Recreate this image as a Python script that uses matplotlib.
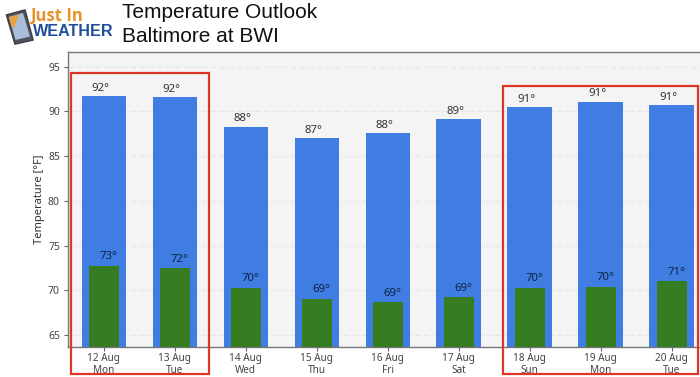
# -*- coding: utf-8 -*-
"""Temperature Outlook Baltimore at BWI: barras de maximas y minimas."""
import matplotlib
matplotlib.use("Agg")
import matplotlib.pyplot as plt
from matplotlib.patches import Polygon, Rectangle

dias = ["12 Aug\nMon", "13 Aug\nTue", "14 Aug\nWed", "15 Aug\nThu", "16 Aug\nFri",
        "17 Aug\nSat", "18 Aug\nSun", "19 Aug\nMon", "20 Aug\nTue"]
maximas = [91.72, 91.6, 88.3, 87.03, 87.6, 89.15, 90.5, 91.1, 90.7]
minimas = [72.75, 72.5, 70.3, 69.05, 68.7, 69.25, 70.3, 70.4, 71.05]
etiquetas_max = ["92°", "92°", "88°", "87°", "88°", "89°", "91°", "91°", "91°"]
etiquetas_min = ["73°", "72°", "70°", "69°", "69°", "69°", "70°", "70°", "71°"]
ticks_y = [65, 70, 75, 80, 85, 90, 95]

ANCHO, ALTO = 700, 377
plt.rcParams["font.family"] = ["Noto Sans", "DejaVu Sans"]

fig = plt.figure(figsize=(ANCHO / 100, ALTO / 100), dpi=100)
ax = fig.add_axes([68.3 / ANCHO, 1 - 346.7 / ALTO, (ANCHO - 68.3) / ANCHO, (346.7 - 52.3) / ALTO])
ax.set_facecolor("#f4f4f4")

posiciones = list(range(len(dias)))
ax.bar(posiciones, maximas, width=0.625, color="#3f7de3", zorder=2)
ax.bar(posiciones, minimas, width=0.42, color="#367c21", zorder=3)

for i in posiciones:
    ax.annotate(etiquetas_max[i], (i, maximas[i]), xytext=(-2.2, 1.5), textcoords="offset points",
                ha="center", va="bottom", fontsize=8.2, color="#333333", zorder=4)
    ax.annotate(etiquetas_min[i], (i, minimas[i]), xytext=(3.3, 2.4), textcoords="offset points",
                ha="center", va="bottom", fontsize=8.2, color="#0d2444", zorder=4)

ax.set_xlim(-0.5, 8.4)
ax.set_ylim(63.7, 96.6)
ax.set_yticks(ticks_y)
ax.set_xticks(posiciones)
ax.set_xticklabels(dias, fontsize=7.2, color="#444444", linespacing=1.08)
ax.tick_params(axis="y", labelsize=7.5, labelcolor="#444444", color="#666666", length=3, width=0.8, pad=3)
ax.tick_params(axis="x", color="#666666", length=3, width=0.8, pad=1.5)
ax.set_ylabel("Temperature [°F]", fontsize=8, color="#333333", labelpad=2)
ax.grid(axis="y", color="#e6e6e6", linestyle=(0, (5, 3)), linewidth=0.8, zorder=1)
ax.set_axisbelow(True)
for lado in ["top", "left", "bottom"]:
    ax.spines[lado].set_color("#777777")
    ax.spines[lado].set_linewidth(1.0)
ax.spines["right"].set_visible(False)

# capa en pixeles para logo y recuadros
capa = fig.add_axes([0, 0, 1, 1], zorder=10)
capa.set_xlim(0, ANCHO)
capa.set_ylim(ALTO, 0)
capa.axis("off")
capa.patch.set_alpha(0)

capa.add_patch(Rectangle((70.5, 72.5), 138, 301.5, fill=False, edgecolor="#dd3528", linewidth=1.6))
capa.add_patch(Rectangle((503, 85.5), 194.5, 288.5, fill=False, edgecolor="#dd3528", linewidth=1.6))

# logo
capa.add_patch(Polygon([(6.5, 15), (25, 10), (33, 40), (15, 44)], closed=True, facecolor="#50545c",
                       edgecolor="#3f4248", linewidth=1.2, joinstyle="round"))
capa.add_patch(Polygon([(9, 17), (23, 13), (30, 36.5), (15.5, 40)], closed=True, facecolor="#a9bcd9"))
capa.add_patch(Polygon([(9, 17), (19, 14.5), (14, 28), (11.5, 27)], closed=True, facecolor="#e8a23c"))
capa.text(30, 16, "Just In", fontsize=12, fontweight="bold", color="#e8922a", ha="left", va="center",
          family="Open Sans")
capa.text(33, 32, "WEATHER", fontsize=11.6, fontweight="bold", color="#1f4e9c", ha="left", va="center",
          family="Liberation Sans")

capa.text(122, 12.5, "Temperature Outlook", fontsize=15, color="#111111", ha="left", va="center",
          family="Liberation Sans")
capa.text(122, 36, "Baltimore at BWI", fontsize=15, color="#111111", ha="left", va="center",
          family="Liberation Sans")

fig.savefig("out.png", dpi=100, facecolor="white")
